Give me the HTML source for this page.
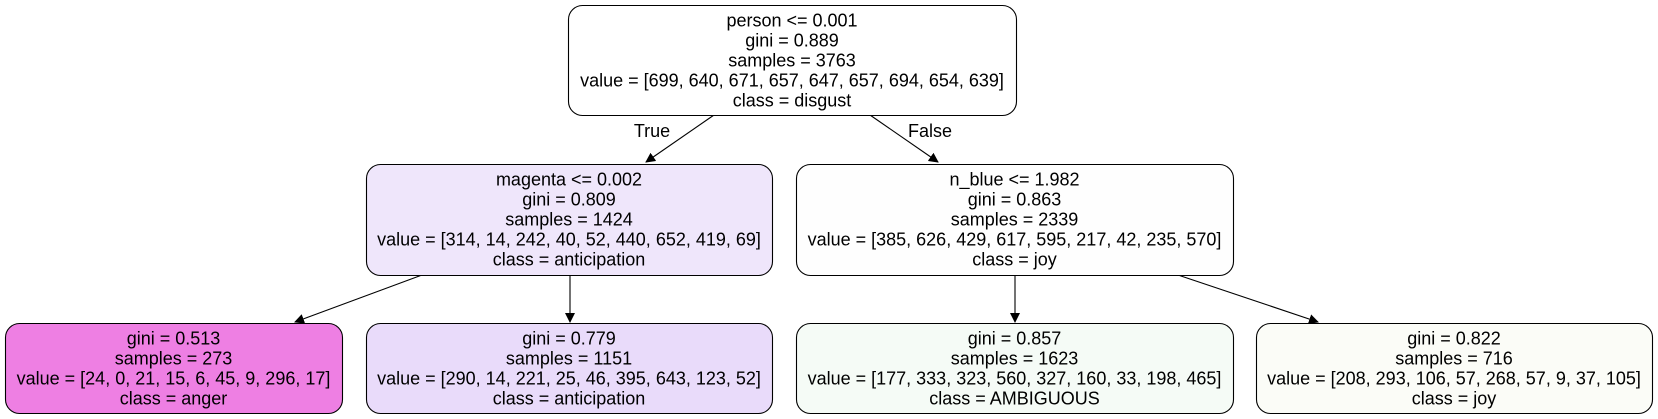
<!DOCTYPE html>
<html><head><meta charset="utf-8"><style>
html,body{margin:0;padding:0;background:#fff;}
svg{display:block;}
text{font-family:"Liberation Sans",Helvetica,Arial,sans-serif;font-size:18px;fill:#000;text-anchor:middle;}
</style></head><body>
<svg width="1658" height="419" viewBox="0 0 1658 419">
<defs><marker id="ah" markerWidth="10" markerHeight="10" refX="9" refY="5" orient="auto" markerUnits="userSpaceOnUse"><path d="M0,0 L10,5 L0,10 z" fill="#000"/></marker></defs>
<g id="edges" stroke="#000" stroke-width="1.1" fill="none">
<line x1="714" y1="115" x2="646" y2="162" marker-end="url(#ah)"/>
<line x1="870" y1="115" x2="938" y2="162" marker-end="url(#ah)"/>
<line x1="422" y1="275" x2="295" y2="322" marker-end="url(#ah)"/>
<line x1="570" y1="275" x2="570" y2="322" marker-end="url(#ah)"/>
<line x1="1015" y1="275" x2="1015" y2="322" marker-end="url(#ah)"/>
<line x1="1178" y1="275" x2="1318" y2="322" marker-end="url(#ah)"/>
</g>
<text x="652" y="137">True</text>
<text x="930" y="137">False</text>
<g id="nodes"></g>
</svg>
<script>
const nodeTitles = ["person <= 0.001","magenta <= 0.002","n_blue <= 1.982","","","",""];
const nodeGini = ["0.889","0.809","0.863","0.513","0.779","0.857","0.822"];
const nodeSamples = ["3763","1424","2339","273","1151","1623","716"];
const nodeValues = ["[699, 640, 671, 657, 647, 657, 694, 654, 639]","[314, 14, 242, 40, 52, 440, 652, 419, 69]","[385, 626, 429, 617, 595, 217, 42, 235, 570]","[24, 0, 21, 15, 6, 45, 9, 296, 17]","[290, 14, 221, 25, 46, 395, 643, 123, 52]","[177, 333, 323, 560, 327, 160, 33, 198, 465]","[208, 293, 106, 57, 268, 57, 9, 37, 105]"];
const nodeClasses = ["disgust","anticipation","joy","anger","anticipation","AMBIGUOUS","joy"];
const nodeFills = ["#ffffff","#efe6fb","#fefefe","#ee7fe3","#e9dbfa","#f5fbf6","#fbfcf7"];
const boxes = [[568,5,448,110],[366,164,406,111],[796,164,437,111],[5,323,337,90],[366,323,406,90],[796,323,437,90],[1256,323,396,90]];
const names = ["root-node","magenta-node","n-blue-node","anger-leaf","anticipation-leaf","ambiguous-leaf","joy-leaf"];
const NS="http://www.w3.org/2000/svg";
const g=document.getElementById('nodes');
boxes.forEach((b,i)=>{
  const grp=document.createElementNS(NS,'g');
  
  
  const r=document.createElementNS(NS,'rect');
  r.setAttribute('x',b[0]+0.5);r.setAttribute('y',b[1]+0.5);r.setAttribute('width',b[2]);r.setAttribute('height',b[3]);
  r.setAttribute('rx',14);r.setAttribute('fill',nodeFills[i]);r.setAttribute('stroke','#000');r.setAttribute('stroke-width','1.1');
  
  
  grp.appendChild(r);
  const lines=[];
  if(nodeTitles[i]) lines.push(nodeTitles[i]);
  lines.push('gini = '+nodeGini[i]);
  lines.push('samples = '+nodeSamples[i]);
  lines.push('value = '+nodeValues[i]);
  lines.push('class = '+nodeClasses[i]);
  const cx=b[0]+b[2]/2;
  lines.forEach((s,j)=>{
    const t=document.createElementNS(NS,'text');
    t.setAttribute('x',cx);t.setAttribute('y',b[1]+15+20*j+6.5);
    
    
    t.textContent=s;
    grp.appendChild(t);
  });
  g.appendChild(grp);
});
</script>
</body></html>
